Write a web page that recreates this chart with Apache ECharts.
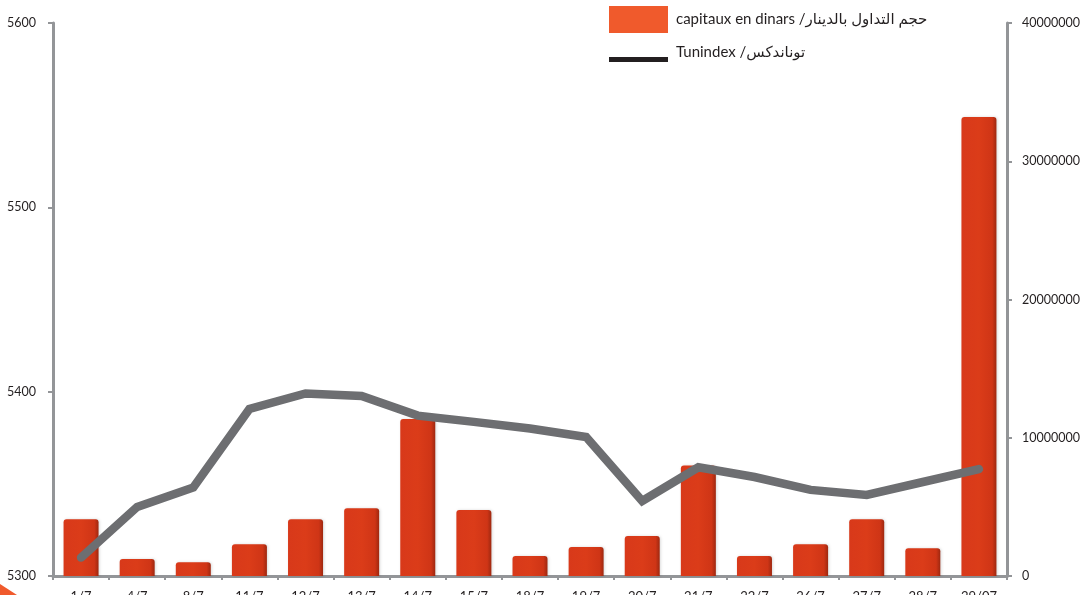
<!DOCTYPE html>
<html>
<head>
<meta charset="utf-8">
<script src="https://cdn.jsdelivr.net/npm/echarts@6/dist/echarts.min.js"></script>
<style>html,body{margin:0;padding:0;background:#fff}#c{width:1085px;height:595px}</style>
</head>
<body>
<div id="c"></div>
<script>
const categories = ['1/7','4/7','8/7','11/7','12/7','13/7','14/7','15/7','18/7','19/7','20/7','21/7','22/7','26/7','27/7','28/7','29/07'];
const capitaux = [4100000,1230000,1000000,2300000,4100000,4900000,11350000,4780000,1450000,2100000,2900000,8000000,1450000,2300000,4100000,2000000,33200000];
const tunindex = [5310,5337.5,5348,5390.6,5399,5397.7,5387,5383.6,5380,5375.4,5340.7,5359,5353.7,5346.7,5344,5351,5358];
const leftTicks = [5300,5400,5500,5600];
const rightTicks = [0,10000000,20000000,30000000,40000000];
const barName = 'capitaux en dinars /حجم التداول بالدينار';
const lineName = 'Tunindex /توناندكس';

const font = 'Lato, "DejaVu Sans", sans-serif';
const axisGrey = '#939598';
const chart = echarts.init(document.getElementById('c'), null, {renderer:'canvas'});
chart.setOption({
  animation:false,
  backgroundColor:'#ffffff',
  textStyle:{fontFamily:font},
  grid:{left:53,right:78,top:23,bottom:19,containLabel:false,outerBoundsMode:'none'},
  legend:[
    {left:609,top:6,padding:0,itemWidth:59,itemHeight:27,icon:'rect',selectedMode:false,
     data:[{name:barName,itemStyle:{color:'#f05a2c'}}],
     textStyle:{fontSize:15,color:'#231f20',fontFamily:font,padding:[0,0,0,3]}},
    {left:609,top:43,padding:0,itemWidth:59,itemHeight:19,selectedMode:false,
     icon:'path://M0,0 M0,14 L59,14 L59,19 L0,19 Z',
     data:[{name:lineName,itemStyle:{color:'#231f20'}}],
     textStyle:{fontSize:15,color:'#231f20',fontFamily:font,padding:[0,0,0,3]}}
  ],
  xAxis:{type:'category',data:categories,boundaryGap:true,
    axisLine:{lineStyle:{color:axisGrey,width:3}},
    axisTick:{show:true,length:4,lineStyle:{color:axisGrey,width:2}},
    axisLabel:{margin:14,fontSize:13,color:'#231f20',interval:0}
  },
  yAxis:[
    {type:'value',min:leftTicks[0],max:leftTicks[leftTicks.length-1],interval:100,position:'left',
     axisLine:{show:true,lineStyle:{color:axisGrey,width:3}},
     axisTick:{show:true,length:5,lineStyle:{color:axisGrey,width:2}},
     axisLabel:{margin:17,fontSize:12.5,color:'#231f20',formatter:v=>String(v)},
     splitLine:{show:false}},
    {type:'value',min:rightTicks[0],max:rightTicks[rightTicks.length-1],interval:10000000,position:'right',
     axisLine:{show:true,lineStyle:{color:axisGrey,width:3}},
     axisTick:{show:true,length:5,lineStyle:{color:axisGrey,width:2}},
     axisLabel:{margin:15,fontSize:12.5,color:'#231f20',formatter:v=>String(v)},
     splitLine:{show:false}}
  ],
  series:[
    {name:barName,type:'bar',yAxisIndex:1,data:capitaux,barWidth:35,
     itemStyle:{
       color:new echarts.graphic.LinearGradient(0,0,1,0,[
         {offset:0,color:'#d8391a'},{offset:0.5,color:'#db3c19'},
         {offset:0.88,color:'#cf3516'},{offset:1,color:'#9e2810'}]),
       borderRadius:[3,3,0,0],
       shadowColor:'rgba(0,0,0,0.15)',shadowBlur:3,shadowOffsetX:1
     }},
    {name:lineName,type:'line',yAxisIndex:0,data:tunindex,symbol:'none',z:5,
     lineStyle:{color:'#6d6e71',width:8.5,cap:'round',join:'miter'}}
  ],
  graphic:[
    {type:'polygon',shape:{points:[[0,584],[17,595],[0,595]]},style:{fill:'#f05a2c'}}
  ]
});
</script>
</body>
</html>
